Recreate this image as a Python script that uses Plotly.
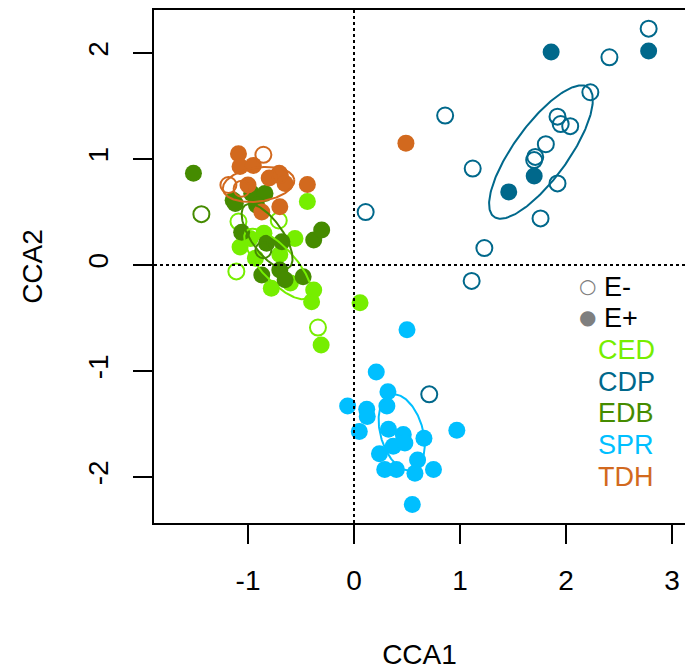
import numpy as np
import plotly.graph_objects as go

# ---------------- data ----------------
groups = ["CED", "CDP", "EDB", "SPR", "TDH"]
colors = ["#76EE00", "#00688B", "#458B00", "#00BFFF", "#D2691E"]

# E- (open symbols)
ced_em_x = [-1.09, -0.71, -1.11, -0.34]
ced_em_y = [0.41, 0.42, -0.06, -0.59]
cdp_em_x = [2.78, 2.41, 0.86, 2.23, 1.92, 1.95, 2.04, 1.81, 1.71, 1.70, 1.12, 1.92, 1.76, 1.23, 1.11, 0.11, 0.71]
cdp_em_y = [2.23, 1.96, 1.41, 1.63, 1.40, 1.33, 1.31, 1.14, 1.02, 0.99, 0.91, 0.77, 0.44, 0.16, -0.15, 0.50, -1.22]
edb_em_x = [-1.44, -0.855]
edb_em_y = [0.48, 0.14]
spr_em_x = []
spr_em_y = []
tdh_em_x = [-0.855, -0.70, -1.185, -1.06]
tdh_em_y = [1.04, 0.85, 0.755, 0.72]

# E+ (filled symbols)
ced_ep_x = [-0.44, -1.075, -0.98, -0.557, -0.93, -0.78, -0.60, -0.38, -0.40, -0.31, 0.057, -0.70, -0.85]
ced_ep_y = [0.60, 0.17, 0.25, 0.25, 0.065, -0.22, -0.17, -0.236, -0.346, -0.755, -0.355, 0.10, 0.30]
cdp_ep_x = [2.78, 1.86, 1.70, 1.46]
cdp_ep_y = [2.02, 2.01, 0.84, 0.69]
edb_ep_x = [-1.515, -1.14, -0.965, -0.84, -0.92, -1.12, -1.06, -0.825, -0.68, -0.38, -0.305, -0.87, -0.70, -0.65, -0.48]
edb_ep_y = [0.865, 0.61, 0.675, 0.675, 0.566, 0.58, 0.31, 0.205, 0.22, 0.236, 0.33, -0.094, -0.047, -0.14, -0.11]
spr_ep_x = [0.50, 0.21, 0.32, -0.06, 0.12, 0.31, 0.125, 0.05, 0.325, 0.465, 0.37, 0.48, 0.66, 0.97, 0.24, 0.60, 0.29, 0.40, 0.575, 0.75, 0.55]
spr_ep_y = [-0.61, -1.01, -1.195, -1.33, -1.36, -1.33, -1.43, -1.57, -1.55, -1.60, -1.71, -1.68, -1.635, -1.56, -1.78, -1.84, -1.93, -1.93, -1.965, -1.93, -2.26]
tdh_ep_x = [-1.09, -1.075, -0.95, -0.705, -0.65, -0.44, -1.0, -0.70, -0.87, 0.49, -0.80]
tdh_ep_y = [1.05, 0.93, 0.94, 0.865, 0.77, 0.76, 0.755, 0.55, 0.50, 1.15, 0.82]

# group ellipses: centre, semi-axes, rotation (deg)
ell_cx = [-0.72, 1.764, -0.82, 0.45, -0.90]
ell_cy = [0.01, 1.066, 0.27, -1.58, 0.76]
ell_a = [0.43, 0.755, 0.36, 0.37, 0.34]
ell_b = [0.16, 0.255, 0.15, 0.20, 0.16]
ell_ang = [-47, 54, -55, 106, 8]

x_ticks = [-1, 0, 1, 2, 3]
y_ticks = [-2, -1, 0, 1, 2]

em = {"CED": (ced_em_x, ced_em_y), "CDP": (cdp_em_x, cdp_em_y), "EDB": (edb_em_x, edb_em_y),
      "SPR": (spr_em_x, spr_em_y), "TDH": (tdh_em_x, tdh_em_y)}
ep = {"CED": (ced_ep_x, ced_ep_y), "CDP": (cdp_ep_x, cdp_ep_y), "EDB": (edb_ep_x, edb_ep_y),
      "SPR": (spr_ep_x, spr_ep_y), "TDH": (tdh_ep_x, tdh_ep_y)}

FONT = "Liberation Sans, Arial, Helvetica, sans-serif"
fig = go.Figure()

for g, c in zip(groups, colors):
    fx, fy = ep[g]
    fig.add_trace(go.Scatter(x=fx, y=fy, mode="markers",
                             marker=dict(symbol="circle", size=17, color=c, line=dict(width=0)),
                             name=g + " E+", showlegend=False))
    ox, oy = em[g]
    fig.add_trace(go.Scatter(x=ox, y=oy, mode="markers",
                             marker=dict(symbol="circle-open", size=16, color=c, line=dict(width=2, color=c)),
                             name=g + " E-", showlegend=False))

t = np.linspace(0, 2 * np.pi, 200)
for g, c, cx, cy, a, b, ang in zip(groups, colors, ell_cx, ell_cy, ell_a, ell_b, ell_ang):
    th = np.deg2rad(ang)
    ex = cx + a * np.cos(t) * np.cos(th) - b * np.sin(t) * np.sin(th)
    ey = cy + a * np.cos(t) * np.sin(th) + b * np.sin(t) * np.cos(th)
    fig.add_trace(go.Scatter(x=ex, y=ey, mode="lines", line=dict(color=c, width=2),
                             showlegend=False, hoverinfo="skip"))

fig.add_hline(y=0, line=dict(color="black", width=2, dash="dot"))
fig.add_vline(x=0, line=dict(color="black", width=2, dash="dot"))

W, H = 685, 670
L, R, T, B = 154, 0, 10, 147
pw, ph = W - L - R, H - T - B


def px(xp):
    return (xp - L) / pw


def py(yp):
    return (H - B - yp) / ph


# legend
leg = [("○", "E-", 286), ("●", "E+", 317)]
for sym, lab, yy in leg:
    fig.add_annotation(x=px(587), y=py(yy), xref="paper", yref="paper", text=sym, showarrow=False,
                       font=dict(family="DejaVu Sans", size=20, color="#7F7F7F"), xanchor="center", yanchor="middle")
    fig.add_annotation(x=px(602), y=py(yy + 1), xref="paper", yref="paper", text=lab, showarrow=False,
                       font=dict(family=FONT, size=27, color="black"), xanchor="left", yanchor="middle")
for i, (g, c) in enumerate(zip(groups, colors)):
    fig.add_annotation(x=px(596), y=py(350 + i * 31.7), xref="paper", yref="paper", text=g, showarrow=False,
                       font=dict(family=FONT, size=27, color=c), xanchor="left", yanchor="middle")

fig.update_layout(
    width=W, height=H, margin=dict(l=L, r=R, t=T, b=B, pad=0),
    plot_bgcolor="white", paper_bgcolor="white", showlegend=False,
    font=dict(family=FONT, size=28, color="black"),
)
fig.update_xaxes(range=[-1.887, 3.123], tickvals=x_ticks, ticktext=[str(v) for v in x_ticks],
                 ticks="outside", ticklen=19, tickwidth=2, tickcolor="black",
                 showline=True, linecolor="black", linewidth=2, mirror=True,
                 showgrid=False, zeroline=False, ticklabelstandoff=12,
                 title=dict(text="CCA1", standoff=50, font=dict(size=28)))
fig.update_yaxes(range=[-2.434, 2.406], tickvals=y_ticks, ticktext=[str(v) for v in y_ticks],
                 ticks="outside", ticklen=19, tickwidth=2, tickcolor="black", tickangle=-90,
                 showline=True, linecolor="black", linewidth=2,
                 showgrid=False, zeroline=False, ticklabelstandoff=14,
                 title=dict(text="CCA2", standoff=32, font=dict(size=28)))

fig.write_html("out.html")
